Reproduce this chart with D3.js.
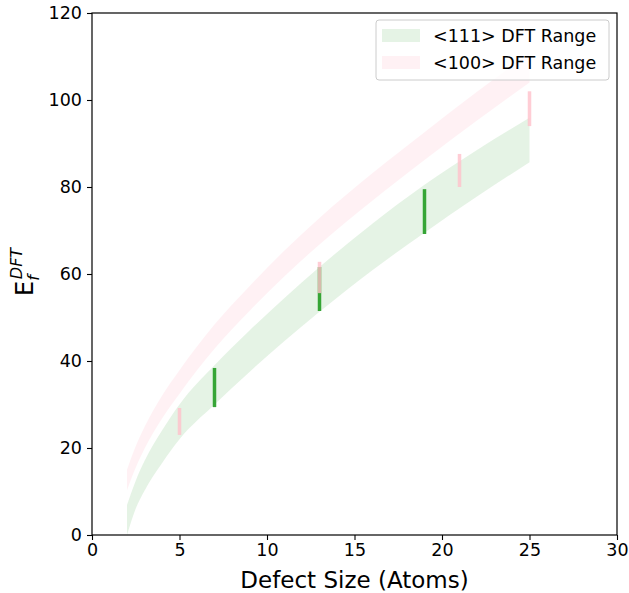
<!DOCTYPE html>
<html>
<head>
<meta charset="utf-8">
<script src="https://cdn.jsdelivr.net/npm/d3@7"></script>
<style>
  body { margin: 0; background: white; }
  text { font-family: "DejaVu Sans", sans-serif; fill: black; }
</style>
</head>
<body>
<svg width="629" height="593"></svg>
<script>
// band samples (defect size -> formation energy)
var bandX = [2, 2.5, 3, 4, 5, 7, 9, 11, 13, 16, 19, 22, 25];
var lo111 = [0, 6.1, 10.2, 16.5, 22.0, 30.0, 37.5, 44.6, 51.3, 60.8, 69.5, 77.8, 85.7];
var hi111 = [6.9, 12.5, 17.0, 24.0, 30.0, 39.0, 47.0, 54.5, 61.6, 71.5, 80.5, 88.5, 95.9];
var lo100 = [10.3, 15.5, 19.8, 26.8, 32.5, 42.8, 51.5, 59.5, 66.8, 76.8, 86.2, 95.3, 104.0];
var hi100 = [15.0, 20.4, 24.8, 32.0, 37.9, 48.4, 57.2, 65.4, 72.9, 83.1, 92.6, 101.9, 110.8];

// vertical DFT bars
var bar111X = [7, 13, 19];
var bar111Lo = [29.4, 51.5, 69.2];
var bar111Hi = [38.4, 61.6, 79.5];
var bar100X = [5, 13, 21, 25];
var bar100Lo = [23.0, 55.6, 80.0, 94.0];
var bar100Hi = [29.2, 62.8, 87.6, 102.0];

var xTicks = [0, 5, 10, 15, 20, 25, 30];
var yTicks = [0, 20, 40, 60, 80, 100, 120];
var legendLabels = ["<111> DFT Range", "<100> DFT Range"];

var pLeft = 92, pRight = 617, pTop = 13, pBottom = 535;

var svg = d3.select("svg");

var x = d3.scaleLinear().domain([0, 30]).range([pLeft, pRight]);
var y = d3.scaleLinear().domain([0, 120]).range([pBottom, pTop]);

svg.append("defs").append("clipPath").attr("id", "plotclip")
    .append("rect")
    .attr("x", pLeft).attr("y", pTop)
    .attr("width", pRight - pLeft).attr("height", pBottom - pTop);

var plot = svg.append("g").attr("clip-path", "url(#plotclip)");

function band(lo, hi) {
    return d3.area()
        .curve(d3.curveMonotoneX)
        .x(function (d, i) { return x(bandX[i]); })
        .y0(function (d, i) { return y(lo[i]); })
        .y1(function (d, i) { return y(hi[i]); })(bandX);
}

var bandStyle = [["#2ca02c", 0.12], ["#ffc0cb", 0.22]];

plot.append("path")
    .attr("d", band(lo111, hi111))
    .attr("fill", bandStyle[0][0])
    .attr("fill-opacity", bandStyle[0][1]);

plot.append("path")
    .attr("d", band(lo100, hi100))
    .attr("fill", bandStyle[1][0])
    .attr("fill-opacity", bandStyle[1][1]);

plot.selectAll(".b111")
    .data(bar111X)
    .join("line")
    .attr("class", "b111")
    .attr("x1", function (d) { return x(d); })
    .attr("x2", function (d) { return x(d); })
    .attr("y1", function (d, i) { return y(bar111Lo[i]); })
    .attr("y2", function (d, i) { return y(bar111Hi[i]); })
    .attr("stroke", "#2ca02c")
    .attr("stroke-opacity", 0.95)
    .attr("stroke-width", 3.5);

plot.selectAll(".b100")
    .data(bar100X)
    .join("line")
    .attr("class", "b100")
    .attr("x1", function (d) { return x(d); })
    .attr("x2", function (d) { return x(d); })
    .attr("y1", function (d, i) { return y(bar100Lo[i]); })
    .attr("y2", function (d, i) { return y(bar100Hi[i]); })
    .attr("stroke", "#ffc0cb")
    .attr("stroke-opacity", 0.8)
    .attr("stroke-width", 3.5);

// axes
var xAxis = svg.append("g")
    .attr("transform", "translate(0," + pBottom + ")")
    .call(d3.axisBottom(x).tickValues(xTicks).tickSize(5).tickPadding(4).tickFormat(d3.format("d")));
var yAxis = svg.append("g")
    .attr("transform", "translate(" + pLeft + ",0)")
    .call(d3.axisLeft(y).tickValues(yTicks).tickSize(5).tickPadding(5).tickFormat(d3.format("d")));

[xAxis, yAxis].forEach(function (a) {
    a.select(".domain").remove();
    a.selectAll(".tick line").attr("stroke", "black").attr("stroke-width", 1.1);
    a.selectAll(".tick text")
        .style("font-family", "DejaVu Sans")
        .style("font-size", "17.5px")
        .attr("fill", "black");
});

svg.append("rect")
    .attr("x", pLeft).attr("y", pTop)
    .attr("width", pRight - pLeft).attr("height", pBottom - pTop)
    .attr("fill", "none")
    .attr("stroke", "black")
    .attr("stroke-width", 1.2);

// axis labels
svg.append("text")
    .attr("x", (pLeft + pRight) / 2)
    .attr("y", 588)
    .attr("text-anchor", "middle")
    .style("font-size", "23px")
    .text("Defect Size (Atoms)");

var yl = svg.append("text")
    .attr("transform", "translate(33,296) rotate(-90)")
    .style("font-size", "24px");
yl.append("tspan").text("E");
yl.append("tspan")
    .attr("dy", 6)
    .style("font-size", "16px")
    .style("font-style", "italic")
    .text("f");
yl.append("tspan")
    .attr("dx", -4)
    .attr("dy", -17)
    .style("font-size", "16px")
    .style("font-style", "italic")
    .text("DFT");

// legend
var legend = svg.append("g");
legend.append("rect")
    .attr("x", 376).attr("y", 20)
    .attr("width", 233).attr("height", 60)
    .attr("rx", 3)
    .attr("fill", "white")
    .attr("fill-opacity", 0.8)
    .attr("stroke", "#cccccc")
    .attr("stroke-width", 1);

legendLabels.forEach(function (lab, i) {
    legend.append("rect")
        .attr("x", 382).attr("y", 29 + i * 27)
        .attr("width", 38).attr("height", 13)
        .attr("fill", bandStyle[i][0])
        .attr("fill-opacity", bandStyle[i][1]);
    legend.append("text")
        .attr("x", 433).attr("y", 42 + i * 27)
        .style("font-size", "17.5px")
        .text(lab);
});
</script>
</body>
</html>
